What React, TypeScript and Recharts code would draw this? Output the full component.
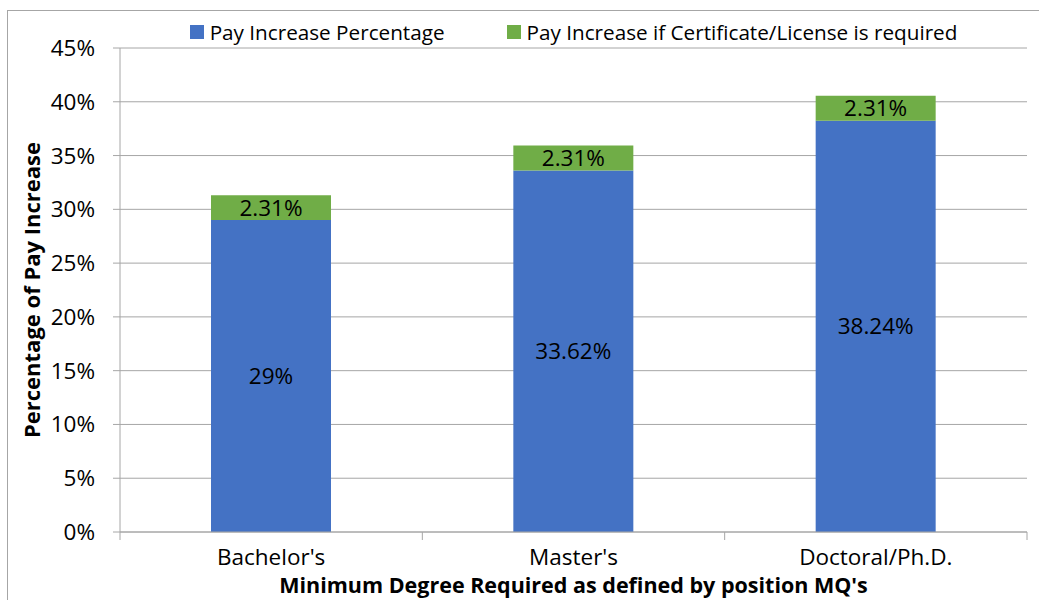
import React from "react";
import {
  BarChart,
  Bar,
  XAxis,
  YAxis,
  CartesianGrid,
  LabelList,
} from "recharts";

const categories = ["Bachelor's", "Master's", "Doctoral/Ph.D."];
const basePay = [29, 33.62, 38.24];
const certificatePay = [2.31, 2.31, 2.31];
const seriesNames = [
  "Pay Increase Percentage",
  "Pay Increase if Certificate/License is required",
];
const seriesColors = ["#4472C4", "#70AD47"];
const yTicks = [0, 5, 10, 15, 20, 25, 30, 35, 40, 45];

const yTitle = "Percentage of Pay Increase";
const xTitle = "Minimum Degree Required as defined by position MQ's";

const data = categories.map((name, i) => ({
  name,
  base: basePay[i],
  cert: certificatePay[i],
}));

const FONT = "'Open Sans', sans-serif";
const GRAY = "#a6a6a6";
const TICK_SIZE = 8;
const TICK_MARGIN = 9;

const pct = (v: any) => `${v}%`;

// category label plus Excel-style tick marks on the band edges
function CategoryTick(props: any) {
  const { x, y, payload, index, visibleTicksCount } = props;
  const half = payload?.offset ?? 0;
  const top = y - TICK_MARGIN - TICK_SIZE;
  const last = index === (visibleTicksCount ?? categories.length) - 1;
  return (
    <g>
      <line x1={x - half} x2={x - half} y1={top} y2={top + TICK_SIZE} stroke={GRAY} />
      {last && (
        <line x1={x + half} x2={x + half} y1={top} y2={top + TICK_SIZE} stroke={GRAY} />
      )}
      <text
        x={x}
        y={y}
        dy="0.71em"
        textAnchor="middle"
        fill="#000"
        fontSize={22.5}
        fontFamily={FONT}
      >
        {payload.value}
      </text>
    </g>
  );
}

function Legend() {
  return (
    <div
      style={{
        position: "absolute",
        left: 120,
        top: 22,
        width: 907,
        display: "flex",
        justifyContent: "center",
        gap: 62,
        fontFamily: FONT,
        fontSize: 20.7,
        lineHeight: "20.5px",
        color: "#000",
        whiteSpace: "nowrap",
      }}
    >
      {seriesNames.map((n, i) => (
        <div key={n} style={{ display: "flex", alignItems: "center" }}>
          <span
            style={{
              width: 14,
              height: 14,
              background: seriesColors[i],
              marginRight: 6,
              display: "inline-block",
            }}
          />
          <span>{n}</span>
        </div>
      ))}
    </div>
  );
}

export default function App() {
  return (
    <div
      style={{
        position: "absolute",
        left: 0,
        top: 0,
        width: 1039,
        height: 600,
        overflow: "hidden",
        background: "#fff",
      }}
    >
      <div
        style={{
          position: "absolute",
          left: 7,
          top: 10,
          width: 1060,
          height: 620,
          border: `1px solid ${GRAY}`,
        }}
      />
      <BarChart
        width={1039}
        height={600}
        data={data}
        margin={{ top: 48, right: 12, bottom: 0, left: 0 }}
        style={{ fontFamily: FONT }}
      >
        <CartesianGrid vertical={false} stroke={GRAY} strokeWidth={1} />
        <XAxis
          dataKey="name"
          axisLine={{ stroke: GRAY }}
          tickLine={false}
          tickSize={TICK_SIZE}
          tickMargin={TICK_MARGIN}
          height={68}
          interval={0}
          tick={<CategoryTick />}
          label={(props: any) => {
            const vb = props.viewBox || {};
            return (
              <text
                x={vb.x + vb.width / 2}
                y={593}
                textAnchor="middle"
                fontSize={21.5}
                fontWeight="bold"
                fontFamily={FONT}
                fill="#000"
              >
                {xTitle}
              </text>
            );
          }}
        />
        <YAxis
          domain={[0, 45]}
          ticks={yTicks}
          interval={0}
          width={120}
          tickFormatter={pct}
          axisLine={{ stroke: GRAY }}
          tickLine={{ stroke: GRAY }}
          tickSize={7}
          tickMargin={18}
          tick={{ fill: "#000", fontSize: 22.5, fontFamily: FONT }}
          label={(props: any) => {
            const vb = props.viewBox || {};
            const cx = vb.x + 40;
            const cy = vb.y + vb.height / 2;
            return (
              <text
                x={cx}
                y={cy}
                transform={`rotate(-90 ${cx} ${cy})`}
                textAnchor="middle"
                fontSize={22}
                fontWeight="bold"
                fontFamily={FONT}
                fill="#000"
              >
                {yTitle}
              </text>
            );
          }}
        />
        <Bar
          dataKey="base"
          stackId="a"
          fill={seriesColors[0]}
          barSize={120}
          isAnimationActive={false}
        >
          <LabelList
            dataKey="base"
            position="center"
            formatter={pct}
            fill="#000"
            fontSize={22.5}
            fontFamily={FONT}
          />
        </Bar>
        <Bar
          dataKey="cert"
          stackId="a"
          fill={seriesColors[1]}
          barSize={120}
          isAnimationActive={false}
        >
          <LabelList
            dataKey="cert"
            position="center"
            formatter={pct}
            fill="#000"
            fontSize={22.5}
            fontFamily={FONT}
          />
        </Bar>
      </BarChart>
      <Legend />
    </div>
  );
}
